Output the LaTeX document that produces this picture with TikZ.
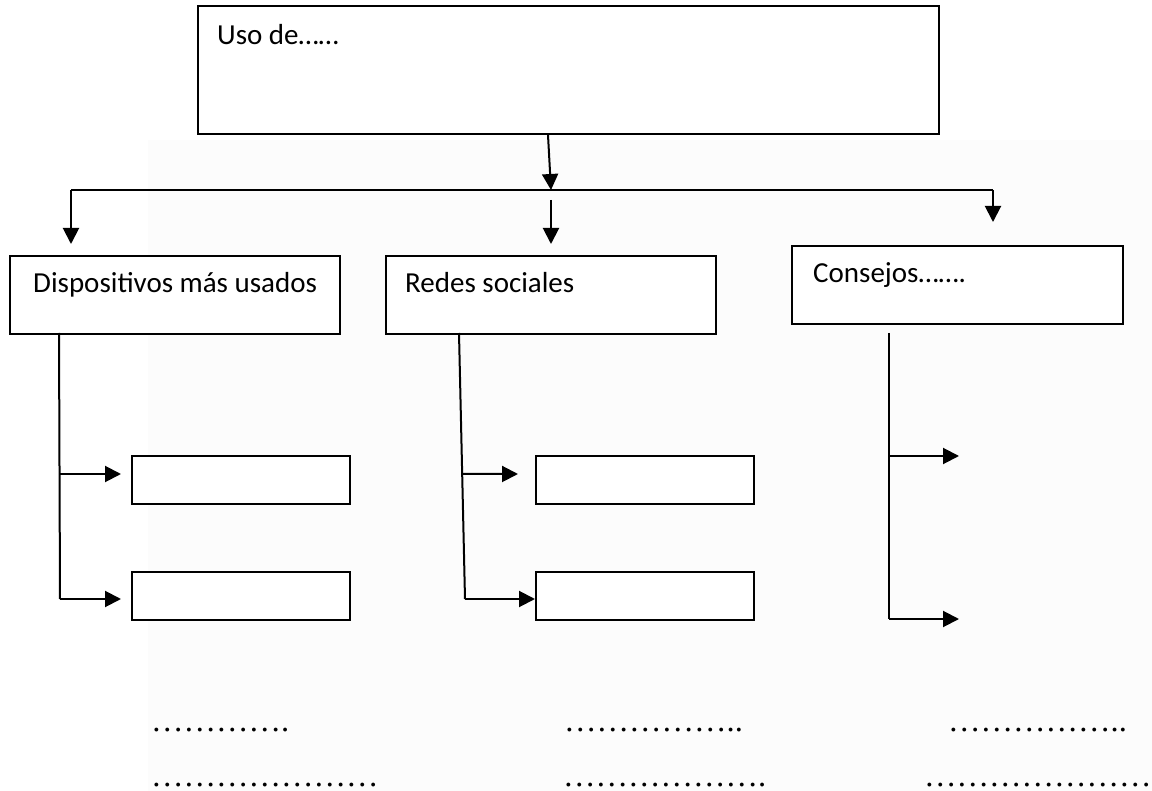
\documentclass[tikz,border=0pt]{standalone}
\usepackage{fontspec}
\setmainfont{Carlito}
\newfontfamily\dotsfont{Liberation Serif}
\usepackage{tikz}
\usetikzlibrary{calc,arrows.meta}
\definecolor{pagegray}{HTML}{FCFCFC}
\definecolor{linecolor}{HTML}{000000}
\tikzstyle{mapbox} = [
    draw=linecolor,
    fill=white,
    line width=2pt,
    rectangle,
    anchor=north west,
    inner sep=0pt
    ]
\tikzstyle{boxtext} = [
    anchor=base west,
    inner sep=0pt,
    font=\fontsize{29}{35}\selectfont
    ]
\tikzstyle{dotline} = [
    anchor=base west,
    inner sep=0pt,
    font=\dotsfont\fontsize{32.5}{39}\selectfont
    ]
\tikzstyle{link} = [
    draw=linecolor,
    line width=2pt
    ]
\tikzstyle{arrowlink} = [
    link,
    -{Triangle[length=16pt,width=16pt]}
    ]

\begin{document}
\begin{tikzpicture}[x=1pt,y=-1pt]
\useasboundingbox (0,0) rectangle (1152,791);
\fill[white] (0,0) rectangle (1152,791);
\fill[pagegray] (148,140) rectangle (1152,791);

\node[mapbox, minimum width=741pt, minimum height=128pt] (uso) at (197,5) {};
\node[boxtext] (usotext) at (217,45) {Uso de……};

\node[mapbox, minimum width=330pt, minimum height=78pt] (disp) at (9,255) {};
\node[boxtext] (disptext) at (33,293) {Dispositivos más usados};
\node[mapbox, minimum width=330pt, minimum height=78pt] (redes) at (385,255) {};
\node[boxtext] (redestext) at (405,293) {Redes sociales};
\node[mapbox, minimum width=331pt, minimum height=78pt] (cons) at (791,245) {};
\node[boxtext] (constext) at (813,283) {Consejos…….};

\node[mapbox, minimum width=218pt, minimum height=48pt] (dispa) at (131,455) {};
\node[mapbox, minimum width=218pt, minimum height=48pt] (dispb) at (131,571) {};
\node[mapbox, minimum width=218pt, minimum height=48pt] (redesa) at (535,455) {};
\node[mapbox, minimum width=218pt, minimum height=48pt] (redesb) at (535,571) {};

\coordinate (hubL) at (71,190);
\coordinate (hubM) at (551,190);
\coordinate (hubR) at (993,190);
\coordinate (dispS) at (59,333);
\coordinate (dispE) at (60,599);
\coordinate (redesS) at (459,333);
\coordinate (redesE) at (465,599);
\coordinate (consS) at (889,333);
\coordinate (consE) at (889,619);
\coordinate (consA) at (959,456);
\coordinate (consB) at (959,619);

\draw[arrowlink] ([xshift=351pt]uso.south west) -- (hubM);
\draw[link] (hubL) -- (hubR);
\draw[arrowlink] (hubL) -- ([yshift=11pt]disp.north -| hubL);
\draw[arrowlink] ([yshift=-10pt]hubM) -- ([yshift=11pt]redes.north -| hubM);
\draw[arrowlink] (hubR) -- ([yshift=23pt]cons.north -| hubR);

\draw[link] (dispS) -- (dispE);
\draw[arrowlink] ([yshift=6pt]dispa.west -| dispS) -- ([xshift=-10pt,yshift=6pt]dispa.west);
\draw[arrowlink] (dispE) -- ([xshift=-10pt]dispE -| dispb.west);

\draw[link] (redesS) -- (redesE);
\draw[arrowlink] ($(redesS)!0.53!(redesE)$) -- ([xshift=-17pt,yshift=6pt]redesa.west);
\draw[arrowlink] (redesE) -- (redesE -| redesb.west);

\draw[link] (consS) -- (consE);
\draw[arrowlink] (consS |- consA) -- (consA);
\draw[arrowlink] (consE) -- (consB);

\node[dotline] (dotsa) at (151,731) {………….};
\node[dotline] (dotsb) at (564,731) {……………..};
\node[dotline] (dotsc) at (948,731) {……………..};
\node[dotline] (dotsd) at (151,786) {…………………};
\node[dotline] (dotse) at (563,786) {……………….};
\node[dotline] (dotsf) at (924,786) {……………………};
\end{tikzpicture}
\end{document}
